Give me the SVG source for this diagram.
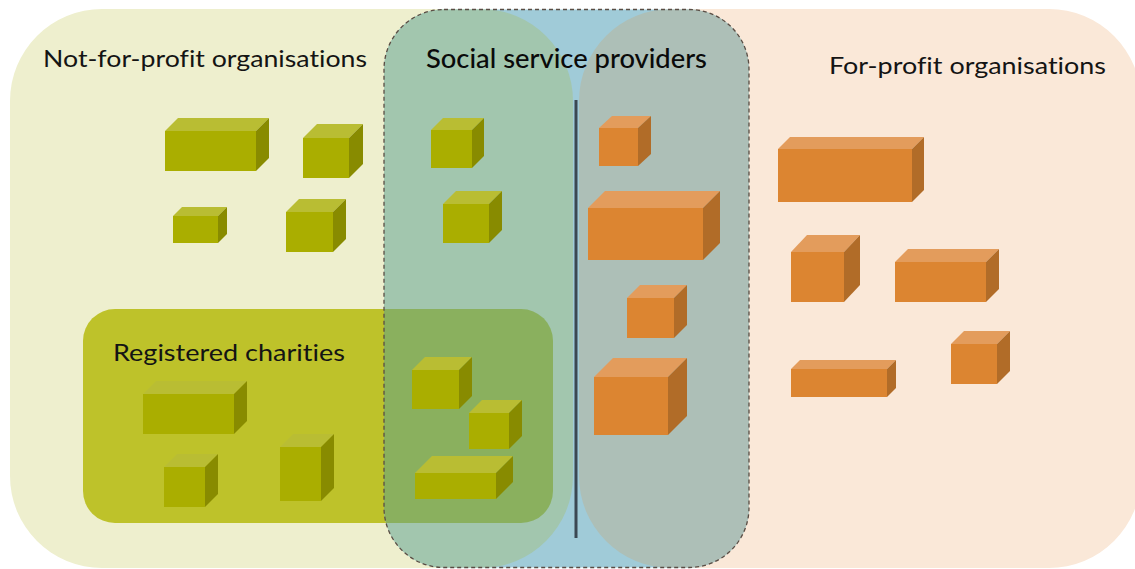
<svg xmlns="http://www.w3.org/2000/svg" width="1135" height="569" viewBox="0 0 1135 569">
  <style>
    .label { font-family: "Lato", "Noto Sans", "DejaVu Sans", sans-serif; font-size: 24px; fill: #141414; font-variant-ligatures: none; }
    .label-strong { font-family: "Lato", "Noto Sans", "DejaVu Sans", sans-serif; font-size: 26px; font-weight: 500; fill: #0a0a0a; font-variant-ligatures: none; }
    .o-front { fill: #AAAE00; }
    .o-top { fill: #B9BD33; }
    .o-side { fill: #888B00; }
    .r-front { fill: #DC8531; }
    .r-top { fill: #E39C5C; }
    .r-side { fill: #B16C28; }
  </style>
  <defs>
    <clipPath id="ssp-clip">
      <rect x="384" y="9.5" width="365" height="558" rx="60" ry="60"/>
    </clipPath>
  </defs>

  <rect x="0" y="0" width="1135" height="569" fill="#FFFFFF"/>

  <!-- sector areas -->
  <g id="not-for-profit">
    <rect x="10" y="9" width="563" height="559" rx="92" ry="92" fill="#EEEFCE"/>
  </g>
  <g id="for-profit">
    <rect x="579" y="9" width="562" height="559" rx="92" ry="92" fill="#FAE8D8"/>
  </g>
  <g id="registered-charities">
    <rect x="83" y="309" width="470" height="214" rx="32" ry="32" fill="#BEC22A"/>
  </g>

  <!-- social service providers band, with the overlapping areas tinted inside it -->
  <g id="social-service-providers">
    <g clip-path="url(#ssp-clip)">
      <rect x="384" y="9" width="366" height="560" fill="#A0CBD8"/>
      <rect x="10" y="9" width="563" height="559" rx="92" ry="92" fill="#A2C6AE"/>
      <rect x="579" y="9" width="562" height="559" rx="92" ry="92" fill="#ADBFB7"/>
      <rect x="83" y="309" width="470" height="214" rx="32" ry="32" fill="#8AB05E"/>
    </g>
    <rect x="384" y="9.5" width="365" height="558" rx="60" ry="60" fill="none" stroke="#5A4D44" stroke-width="1.3" stroke-dasharray="4 3"/>
  </g>

  <g id="connectors">
    <line x1="576" y1="100" x2="576" y2="538" stroke="#3B4852" stroke-width="3"/>
  </g>

  <!-- not-for-profit organisations -->
  <g id="nfp-box-1"><polygon class="o-top" points="165,131 178,118 269,118 256,131"/><polygon class="o-side" points="256,131 269,118 269,158 256,171"/><rect class="o-front" x="165" y="131" width="91" height="40"/></g>
  <g id="nfp-box-2"><polygon class="o-top" points="303,138 317,124 363,124 349,138"/><polygon class="o-side" points="349,138 363,124 363,164 349,178"/><rect class="o-front" x="303" y="138" width="46" height="40"/></g>
  <g id="nfp-box-3"><polygon class="o-top" points="173,216 182,207 227,207 218,216"/><polygon class="o-side" points="218,216 227,207 227,234 218,243"/><rect class="o-front" x="173" y="216" width="45" height="27"/></g>
  <g id="nfp-box-4"><polygon class="o-top" points="286,212 299,199 346,199 333,212"/><polygon class="o-side" points="333,212 346,199 346,239 333,252"/><rect class="o-front" x="286" y="212" width="47" height="40"/></g>
  <g id="nfp-box-5"><polygon class="o-top" points="431,130 443,118 484,118 472,130"/><polygon class="o-side" points="472,130 484,118 484,156 472,168"/><rect class="o-front" x="431" y="130" width="41" height="38"/></g>
  <g id="nfp-box-6"><polygon class="o-top" points="443,204 456,191 502,191 489,204"/><polygon class="o-side" points="489,204 502,191 502,230 489,243"/><rect class="o-front" x="443" y="204" width="46" height="39"/></g>

  <!-- registered charities -->
  <g id="charity-box-1"><polygon class="o-top" points="143,394 156,381 247,381 234,394"/><polygon class="o-side" points="234,394 247,381 247,421 234,434"/><rect class="o-front" x="143" y="394" width="91" height="40"/></g>
  <g id="charity-box-2"><polygon class="o-top" points="164,467 177,454 218,454 205,467"/><polygon class="o-side" points="205,467 218,454 218,494 205,507"/><rect class="o-front" x="164" y="467" width="41" height="40"/></g>
  <g id="charity-box-3"><polygon class="o-top" points="280,447 293,434 334,434 321,447"/><polygon class="o-side" points="321,447 334,434 334,488 321,501"/><rect class="o-front" x="280" y="447" width="41" height="54"/></g>
  <g id="charity-box-4"><polygon class="o-top" points="412,370 425,357 472,357 459,370"/><polygon class="o-side" points="459,370 472,357 472,396 459,409"/><rect class="o-front" x="412" y="370" width="47" height="39"/></g>
  <g id="charity-box-5"><polygon class="o-top" points="469,413 482,400 522,400 509,413"/><polygon class="o-side" points="509,413 522,400 522,436 509,449"/><rect class="o-front" x="469" y="413" width="40" height="36"/></g>
  <g id="charity-box-6"><polygon class="o-top" points="415,473 432,456 513,456 496,473"/><polygon class="o-side" points="496,473 513,456 513,482 496,499"/><rect class="o-front" x="415" y="473" width="81" height="26"/></g>

  <!-- for-profit organisations -->
  <g id="fp-box-1"><polygon class="r-top" points="599,128 612,116 651,116 638,128"/><polygon class="r-side" points="638,128 651,116 651,154 638,166"/><rect class="r-front" x="599" y="128" width="39" height="38"/></g>
  <g id="fp-box-2"><polygon class="r-top" points="588,208 605,191 720,191 703,208"/><polygon class="r-side" points="703,208 720,191 720,243 703,260"/><rect class="r-front" x="588" y="208" width="115" height="52"/></g>
  <g id="fp-box-3"><polygon class="r-top" points="627,298 640,285 687,285 674,298"/><polygon class="r-side" points="674,298 687,285 687,325 674,338"/><rect class="r-front" x="627" y="298" width="47" height="40"/></g>
  <g id="fp-box-4"><polygon class="r-top" points="594,377 613,358 687,358 668,377"/><polygon class="r-side" points="668,377 687,358 687,416 668,435"/><rect class="r-front" x="594" y="377" width="74" height="58"/></g>
  <g id="fp-box-5"><polygon class="r-top" points="778,149 790,137 924,137 912,149"/><polygon class="r-side" points="912,149 924,137 924,190 912,202"/><rect class="r-front" x="778" y="149" width="134" height="53"/></g>
  <g id="fp-box-6"><polygon class="r-top" points="791,252 807,235 860,235 844,252"/><polygon class="r-side" points="844,252 860,235 860,285 844,302"/><rect class="r-front" x="791" y="252" width="53" height="50"/></g>
  <g id="fp-box-7"><polygon class="r-top" points="895,262 908,249 999,249 986,262"/><polygon class="r-side" points="986,262 999,249 999,289 986,302"/><rect class="r-front" x="895" y="262" width="91" height="40"/></g>
  <g id="fp-box-8"><polygon class="r-top" points="791,369 800,360 896,360 887,369"/><polygon class="r-side" points="887,369 896,360 896,388 887,397"/><rect class="r-front" x="791" y="369" width="96" height="28"/></g>
  <g id="fp-box-9"><polygon class="r-top" points="951,344 964,331 1010,331 997,344"/><polygon class="r-side" points="997,344 1010,331 1010,371 997,384"/><rect class="r-front" x="951" y="344" width="46" height="40"/></g>

  <!-- labels -->
  <g id="labels">
    <text class="label" x="43" y="67" textLength="324" lengthAdjust="spacingAndGlyphs">Not-for-profit organisations</text>
    <text class="label-strong" x="426" y="68" textLength="281" lengthAdjust="spacingAndGlyphs">Social service providers</text>
    <text class="label" x="829" y="74" textLength="277" lengthAdjust="spacingAndGlyphs">For-profit organisations</text>
    <text class="label" x="113" y="361" textLength="232" lengthAdjust="spacingAndGlyphs">Registered charities</text>
  </g>
</svg>
